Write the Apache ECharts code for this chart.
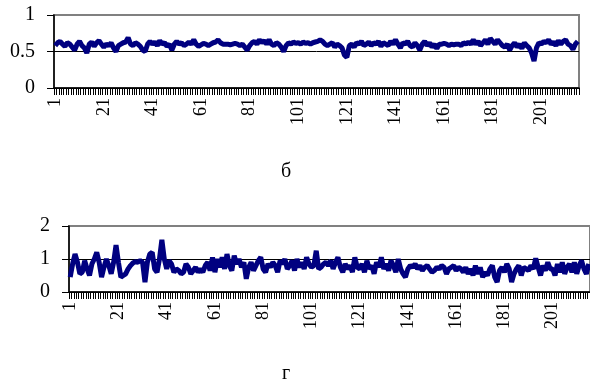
<!DOCTYPE html>
<html>
<head>
<meta charset="utf-8">
<script src="https://cdn.jsdelivr.net/npm/echarts@6/dist/echarts.min.js"></script>
<style>
  html, body { margin: 0; padding: 0; background: #fff; }
  #main { width: 590px; height: 383px; }
</style>
</head>
<body>
<div id="main"></div>
<script>
// top panel (б) values
var seriesB = [
  0.58, 0.62, 0.64, 0.6, 0.57, 0.62, 0.6, 0.56, 0.52, 0.6,
  0.64, 0.58, 0.55, 0.48, 0.6, 0.63, 0.57, 0.62, 0.65, 0.6,
  0.56, 0.6, 0.58, 0.62, 0.55, 0.5, 0.58, 0.6, 0.62, 0.63,
  0.69, 0.6, 0.58, 0.62, 0.6, 0.57, 0.52, 0.5, 0.6, 0.64,
  0.6, 0.63, 0.58, 0.65, 0.6, 0.62, 0.57, 0.6, 0.52, 0.6,
  0.64, 0.6, 0.62, 0.58, 0.6, 0.63, 0.6, 0.66, 0.6, 0.57,
  0.59, 0.61, 0.6, 0.58, 0.6, 0.62, 0.63, 0.66, 0.62, 0.6,
  0.6, 0.6, 0.59, 0.6, 0.61, 0.6, 0.58, 0.6, 0.56, 0.52,
  0.58, 0.62, 0.64, 0.6, 0.66, 0.62, 0.65, 0.6, 0.66, 0.6,
  0.58, 0.62, 0.6, 0.56, 0.5, 0.58, 0.62, 0.6, 0.63, 0.61,
  0.62, 0.6, 0.63, 0.61, 0.62, 0.6, 0.62, 0.63, 0.64, 0.66,
  0.64, 0.6, 0.58, 0.6, 0.62, 0.56, 0.6, 0.58, 0.55, 0.45,
  0.42, 0.58, 0.6, 0.56, 0.62, 0.6, 0.64, 0.58, 0.6, 0.63,
  0.58, 0.62, 0.6, 0.64, 0.57, 0.62, 0.6, 0.58, 0.64, 0.6,
  0.66, 0.6, 0.55, 0.62, 0.6, 0.64, 0.58, 0.56, 0.62, 0.58,
  0.52, 0.6, 0.64, 0.58, 0.62, 0.56, 0.6, 0.54, 0.6, 0.6,
  0.61, 0.6, 0.58, 0.6, 0.59, 0.6, 0.6, 0.58, 0.62, 0.6,
  0.63, 0.6, 0.66, 0.6, 0.64, 0.58, 0.62, 0.66, 0.6, 0.68,
  0.64, 0.6, 0.66, 0.62, 0.58, 0.56, 0.6, 0.52, 0.58, 0.62,
  0.56, 0.6, 0.54, 0.62, 0.58, 0.55, 0.48, 0.37, 0.55, 0.62,
  0.6, 0.64, 0.62, 0.66, 0.6, 0.63, 0.58, 0.65, 0.6, 0.64,
  0.66, 0.6, 0.58, 0.53, 0.6, 0.64
];

// bottom panel (г) values
var seriesG = [
  0.45, 0.85, 1.15, 0.9, 0.55, 0.6, 0.95, 0.7, 0.5, 0.85,
  1.0, 1.2, 0.9, 0.45, 0.75, 1.0, 0.8, 0.55, 0.9, 1.42,
  0.9, 0.45, 0.5, 0.55, 0.7, 0.8, 0.88, 0.92, 0.9, 0.95,
  0.9, 0.3, 0.9, 1.15, 1.2, 0.7, 0.6, 1.0, 1.58, 1.0,
  0.7, 0.95, 0.85, 0.6, 0.7, 0.65, 0.55, 0.6, 0.85, 0.75,
  0.55, 0.65, 0.75, 0.6, 0.7, 0.6, 0.8, 0.9, 0.65, 1.05,
  0.6, 1.0, 0.75, 1.05, 0.7, 1.15, 0.8, 0.65, 1.1, 0.85,
  1.0, 0.75, 0.9, 0.4, 0.75, 0.9, 0.65, 0.8, 0.95, 1.05,
  0.7, 0.6, 0.85, 0.75, 0.9, 0.8, 0.6, 0.95, 0.85, 1.0,
  0.7, 0.8, 0.95, 0.65, 1.0, 0.75, 0.9, 0.7, 1.05, 0.85,
  0.75, 0.8, 1.25, 0.7, 0.75, 0.85, 0.9, 0.8, 0.95, 0.7,
  0.9, 1.05, 0.75, 0.6, 0.85, 0.7, 0.8, 0.6, 1.05, 0.75,
  0.7, 0.85, 0.6, 0.95, 0.7, 0.8, 0.55, 0.9, 0.75, 1.05,
  0.7, 0.85, 0.65, 0.95, 0.8, 0.6, 1.0, 0.7, 0.55, 0.45,
  0.7, 0.8, 0.75, 0.85, 0.7, 0.8, 0.65, 0.75, 0.8, 0.7,
  0.6, 0.65, 0.75, 0.7, 0.8, 0.75, 0.55, 0.7, 0.75, 0.8,
  0.65, 0.75, 0.7, 0.6, 0.75, 0.55, 0.7, 0.5, 0.8, 0.55,
  0.75, 0.45, 0.6, 0.5, 0.7, 0.8, 0.45, 0.3, 0.65, 0.75,
  0.6, 0.85, 0.7, 0.3, 0.55, 0.7, 0.8, 0.5, 0.75, 0.7,
  0.65, 0.8, 0.7, 1.02, 0.75, 0.5, 0.8, 0.65, 0.9, 0.7,
  0.7, 0.5, 0.85, 0.6, 0.9, 0.55, 0.75, 0.85, 0.6, 0.9,
  0.55, 0.8, 0.95, 0.7, 0.55, 0.85
];

var categories = [];
for (var i = 1; i <= seriesB.length; i++) categories.push(String(i));

var yTicksB = { min: 0, max: 1, interval: 0.5 };
var yTicksG = { min: 0, max: 2, interval: 1 };

var font = 'Liberation Serif';

function xAxisFor(gridIndex) {
  return {
    type: 'category',
    gridIndex: gridIndex,
    data: categories,
    boundaryGap: true,
    axisLine: { show: true, onZero: false, lineStyle: { color: '#000', width: 1.5 } },
    axisTick: { show: true, interval: 0, length: 7, lineStyle: { color: '#000', width: 1 } },
    axisLabel: {
      interval: 19, rotate: 90, margin: 10,
      fontFamily: font, fontSize: 18, color: '#000'
    }
  };
}

function yAxisFor(gridIndex, t) {
  return {
    type: 'value',
    gridIndex: gridIndex,
    min: t.min, max: t.max, interval: t.interval,
    axisLine: { show: true, onZero: false, lineStyle: { color: '#000', width: 1.5 } },
    axisTick: { show: true, length: 7, lineStyle: { color: '#000', width: 1 } },
    axisLabel: { margin: 19, fontFamily: font, fontSize: 20, color: '#000' },
    splitLine: { show: true, lineStyle: { color: ['#000', '#000', '#808080'], width: 1 } }
  };
}

var myChart = echarts.init(document.getElementById('main'));

myChart.setOption({
  animation: false,
  backgroundColor: '#fff',
  title: [
    { text: 'б', left: 276, top: 157, textStyle: { fontFamily: font, fontSize: 20, fontWeight: 'normal', color: '#000' } },
    { text: 'г', left: 277, top: 359, textStyle: { fontFamily: font, fontSize: 20, fontWeight: 'normal', color: '#000' } }
  ],
  grid: [
    { left: 54, top: 15, width: 525, height: 73, show: true, borderColor: '#808080', borderWidth: 2 },
    { left: 69, top: 226, width: 525, height: 66, show: true, borderColor: '#808080', borderWidth: 2 }
  ],
  xAxis: [xAxisFor(0), xAxisFor(1)],
  yAxis: [yAxisFor(0, yTicksB), yAxisFor(1, yTicksG)],
  series: [
    {
      type: 'line', xAxisIndex: 0, yAxisIndex: 0, data: seriesB,
      symbol: 'none', lineStyle: { color: '#000080', width: 5 }
    },
    {
      type: 'line', xAxisIndex: 1, yAxisIndex: 1, data: seriesG,
      symbol: 'none', lineStyle: { color: '#000080', width: 5 }
    }
  ]
});
</script>
</body>
</html>
